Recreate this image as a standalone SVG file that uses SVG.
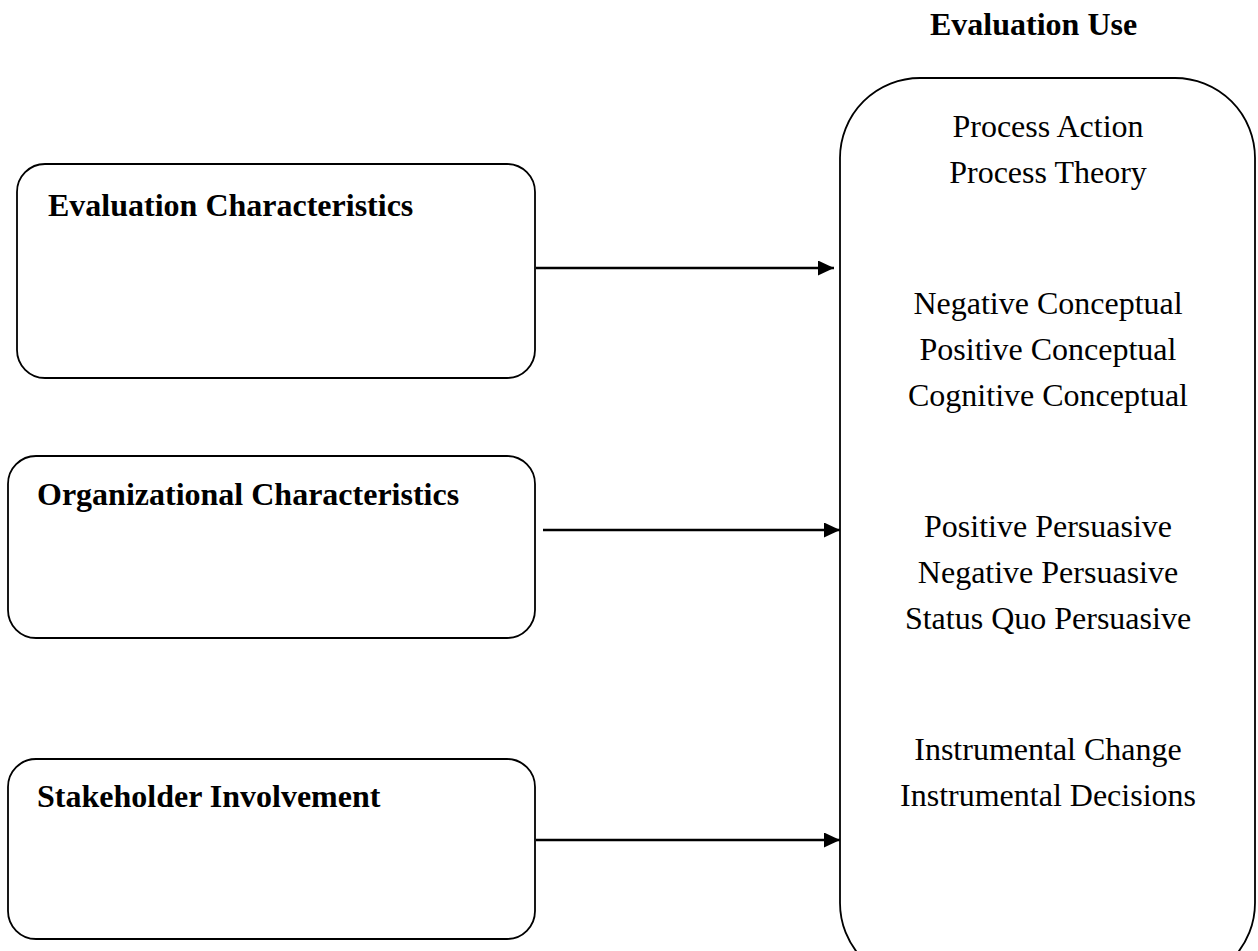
<svg xmlns="http://www.w3.org/2000/svg" width="1258" height="951" viewBox="0 0 1258 951">
  <style>
    .box { fill: #ffffff; stroke: #000000; stroke-width: 1.8; }
    .head { font-family: "Liberation Serif", "Times New Roman", serif; font-size: 32px; font-weight: bold; fill: #000000; }
    .item { font-family: "Liberation Serif", "Times New Roman", serif; font-size: 32px; fill: #000000; text-anchor: middle; }
    .conn { stroke: #000000; stroke-width: 2.6; fill: none; marker-end: url(#arrow); }
  </style>
  <defs>
    <marker id="arrow" markerUnits="userSpaceOnUse" markerWidth="16" markerHeight="15" refX="16" refY="7.5" orient="auto">
      <path d="M0,0 L16,7.5 L0,15 Z" fill="#000000"/>
    </marker>
  </defs>
  <rect width="1258" height="951" fill="#ffffff"/>

  <g id="evaluation-characteristics">
    <rect class="box" x="17" y="164" width="518" height="214" rx="28" ry="28"/>
    <text class="head" x="48" y="216">Evaluation Characteristics</text>
  </g>

  <g id="organizational-characteristics">
    <rect class="box" x="8" y="456" width="527" height="182" rx="28" ry="28"/>
    <text class="head" x="37" y="505">Organizational Characteristics</text>
  </g>

  <g id="stakeholder-involvement">
    <rect class="box" x="8" y="759" width="527" height="180" rx="28" ry="28"/>
    <text class="head" x="37" y="807">Stakeholder Involvement</text>
  </g>

  <g id="evaluation-use">
    <text class="head" x="930" y="35">Evaluation Use</text>
    <rect class="box" x="840" y="78" width="415" height="905" rx="80" ry="80"/>
    <text class="item" x="1048" y="137">Process Action</text>
    <text class="item" x="1048" y="183">Process Theory</text>
    <text class="item" x="1048" y="314">Negative Conceptual</text>
    <text class="item" x="1048" y="360">Positive Conceptual</text>
    <text class="item" x="1048" y="406">Cognitive Conceptual</text>
    <text class="item" x="1048" y="537">Positive Persuasive</text>
    <text class="item" x="1048" y="583">Negative Persuasive</text>
    <text class="item" x="1048" y="629">Status Quo Persuasive</text>
    <text class="item" x="1048" y="760">Instrumental Change</text>
    <text class="item" x="1048" y="806">Instrumental Decisions</text>
  </g>

  <g id="connectors">
    <line class="conn" x1="536" y1="268" x2="834" y2="268"/>
    <line class="conn" x1="543" y1="530" x2="840" y2="530"/>
    <line class="conn" x1="536" y1="840" x2="840" y2="840"/>
  </g>
</svg>
